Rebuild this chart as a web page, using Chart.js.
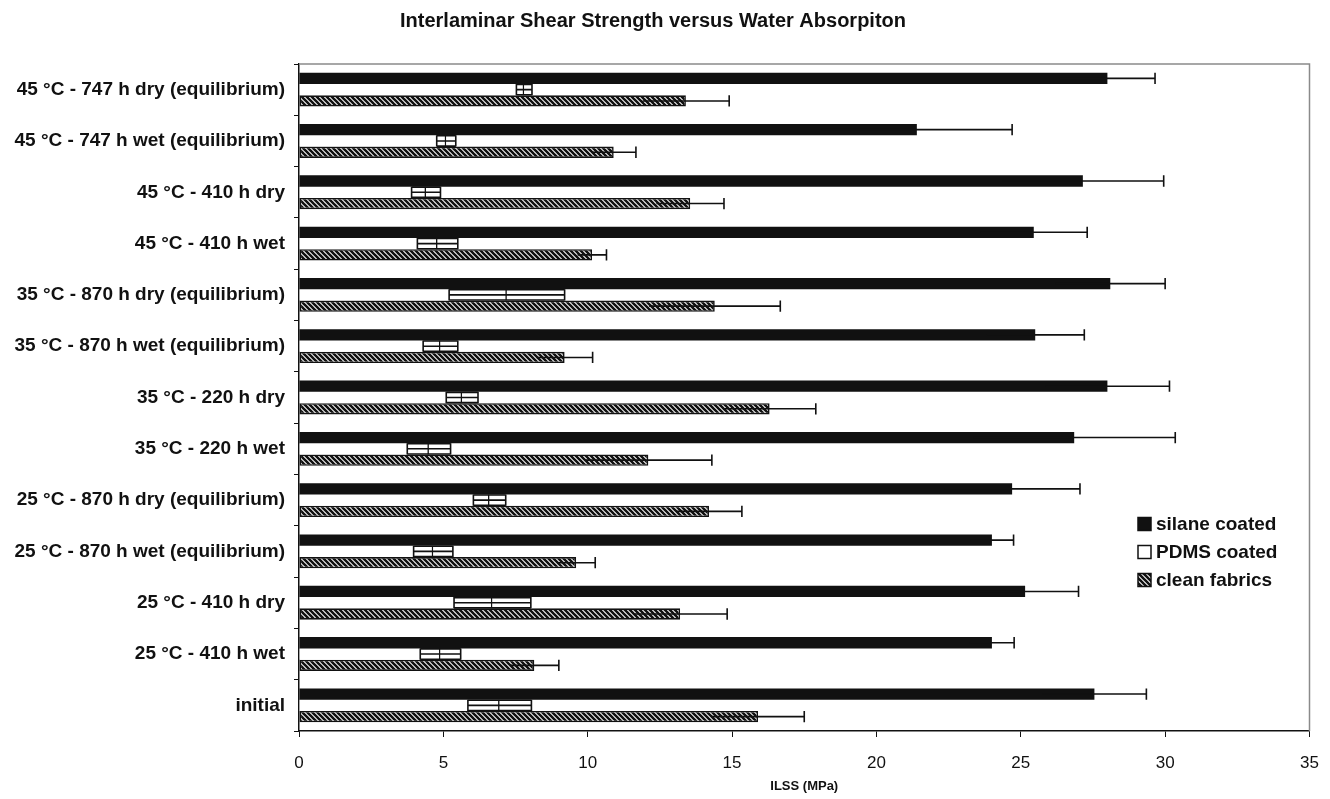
<!DOCTYPE html>
<html>
<head>
<meta charset="utf-8">
<title>ILSS versus water absorption</title>
<script src="https://cdn.jsdelivr.net/npm/chart.js@4.4.1/dist/chart.umd.min.js"></script>
<style>
  html, body { margin: 0; padding: 0; background: #fff; }
</style>
</head>
<body>
<canvas id="ilssChart" width="1330" height="799"></canvas>
<script>
// conditioning steps, listed top to bottom
const conditions = [
  "45 °C - 747 h dry (equilibrium)",
  "45 °C - 747 h wet (equilibrium)",
  "45 °C - 410 h dry",
  "45 °C - 410 h wet",
  "35 °C - 870 h dry (equilibrium)",
  "35 °C - 870 h wet (equilibrium)",
  "35 °C - 220 h dry",
  "35 °C - 220 h wet",
  "25 °C - 870 h dry (equilibrium)",
  "25 °C - 870 h wet (equilibrium)",
  "25 °C - 410 h dry",
  "25 °C - 410 h wet",
  "initial"
];

// ILSS in MPa and standard deviations
const silane    = [28.0, 21.4, 27.15, 25.45, 28.1, 25.5, 28.0, 26.85, 24.7, 24.0, 25.15, 24.0, 27.55];
const silaneErr = [1.65, 3.3, 2.8, 1.85, 1.9, 1.7, 2.15, 3.5, 2.35, 0.75, 1.85, 0.77, 1.8];
const pdms      = [7.8, 5.1, 4.4, 4.8, 7.2, 4.9, 5.65, 4.5, 6.6, 4.65, 6.7, 4.9, 6.95];
const pdmsErr   = [0.27, 0.33, 0.5, 0.7, 2.0, 0.6, 0.55, 0.75, 0.56, 0.68, 1.33, 0.7, 1.1];
const clean     = [13.4, 10.9, 13.55, 10.15, 14.4, 9.2, 16.3, 12.1, 14.2, 9.6, 13.2, 8.15, 15.9];
const cleanErr  = [1.5, 0.77, 1.17, 0.5, 2.27, 0.97, 1.6, 2.2, 1.14, 0.66, 1.63, 0.85, 1.6];

const seriesNames = ["silane coated", "PDMS coated", "clean fabrics"];
const xTicks = [0, 5, 10, 15, 20, 25, 30, 35];
const chartTitle = "Interlaminar Shear Strength versus Water Absorpiton";

const INK = "#111";
const FONT = "'Liberation Sans', Arial, sans-serif";

const canvas = document.getElementById("ilssChart");
const ctx = canvas.getContext("2d");

// diagonal "\" hatching for the clean fabric bars
function makeHatch() {
  const s = 5;
  const tile = document.createElement("canvas");
  tile.width = s;
  tile.height = s;
  const g = tile.getContext("2d");
  g.fillStyle = "#fff";
  g.fillRect(0, 0, s, s);
  g.strokeStyle = INK;
  g.lineWidth = 2.6;
  g.beginPath();
  for (let k = -1; k <= 1; k++) {
    g.moveTo(k * s - 1, -1);
    g.lineTo(k * s + s + 1, s + 1);
  }
  g.stroke();
  return ctx.createPattern(tile, "repeat");
}
const hatch = makeHatch();

// error bars: line through the bar middle with end caps;
// PDMS bars get a closed box between the caps
const errorBars = {
  id: "errorBars",
  afterDatasetsDraw(chart) {
    const c = chart.ctx;
    const xs = chart.scales.x;
    c.save();
    c.strokeStyle = INK;
    chart.data.datasets.forEach((ds, i) => {
      const meta = chart.getDatasetMeta(i);
      meta.data.forEach((bar, j) => {
        const { y, height } = bar.getProps(["y", "height"], true);
        const v = ds.data[j];
        const e = ds.errors[j];
        const lo = xs.getPixelForValue(v - e);
        const hi = xs.getPixelForValue(v + e);
        const top = y - height / 2;
        const bot = y + height / 2;
        c.lineWidth = 1.6;
        c.beginPath();
        c.moveTo(lo, y);
        c.lineTo(hi, y);
        c.moveTo(hi, top);
        c.lineTo(hi, bot);
        if (ds.boxed) {
          c.moveTo(lo, top);
          c.lineTo(lo, bot);
          c.moveTo(lo, top + 0.5);
          c.lineTo(hi, top + 0.5);
          c.moveTo(lo, bot - 0.5);
          c.lineTo(hi, bot - 0.5);
        }
        c.stroke();
      });
    });
    c.restore();
  }
};

// light frame round the plot area
const plotFrame = {
  id: "plotFrame",
  beforeDatasetsDraw(chart) {
    const { left, right, top, bottom } = chart.chartArea;
    const c = chart.ctx;
    c.save();
    c.strokeStyle = "#8a8a8a";
    c.lineWidth = 1.5;
    c.beginPath();
    c.moveTo(left, top);
    c.lineTo(right, top);
    c.lineTo(right, bottom);
    c.stroke();
    c.restore();
  }
};

// heading, set a little left of the page centre
const heading = {
  id: "heading",
  afterDraw(chart) {
    const c = chart.ctx;
    c.save();
    c.font = "bold 20px " + FONT;
    c.fillStyle = INK;
    c.textAlign = "center";
    c.textBaseline = "middle";
    c.fillText(chartTitle, 653, 21);
    c.restore();
  }
};

// legend box sitting inside the plot, lower right
const boxLegend = {
  id: "boxLegend",
  afterDraw(chart) {
    const c = chart.ctx;
    const x0 = 1138;
    const rows = [524, 552, 580];
    c.save();
    c.font = "bold 19px " + FONT;
    c.textBaseline = "middle";
    chart.data.datasets.forEach((ds, i) => {
      const yc = rows[i];
      c.fillStyle = ds.legendFill;
      c.fillRect(x0, yc - 6.5, 13, 13);
      c.strokeStyle = INK;
      c.lineWidth = 1.5;
      c.strokeRect(x0, yc - 6.5, 13, 13);
      c.fillStyle = INK;
      c.fillText(ds.label, x0 + 18, yc + 1);
    });
    c.restore();
  }
};

new Chart(ctx, {
  type: "bar",
  data: {
    labels: conditions,
    datasets: [
      {
        label: seriesNames[0],
        data: silane,
        errors: silaneErr,
        backgroundColor: INK,
        legendFill: INK,
        borderWidth: 0,
        barPercentage: 1,
        categoryPercentage: 0.66
      },
      {
        label: seriesNames[1],
        data: pdms,
        errors: pdmsErr,
        boxed: true,
        backgroundColor: "#fff",
        legendFill: "#fff",
        borderColor: INK,
        borderWidth: { right: 1.6, top: 0, bottom: 0, left: 0 },
        borderSkipped: false,
        barPercentage: 1,
        categoryPercentage: 0.66
      },
      {
        label: seriesNames[2],
        data: clean,
        errors: cleanErr,
        backgroundColor: hatch,
        legendFill: hatch,
        borderColor: INK,
        borderWidth: 1.6,
        borderSkipped: false,
        barPercentage: 1,
        categoryPercentage: 0.66
      }
    ]
  },
  options: {
    indexAxis: "y",
    responsive: false,
    animation: false,
    layout: { padding: { left: 0, right: 0, top: 64, bottom: 0 } },
    plugins: {
      legend: { display: false },
      tooltip: { enabled: false },
      title: { display: false }
    },
    scales: {
      x: {
        min: 0,
        max: 35,
        afterBuildTicks(scale) {
          scale.ticks = xTicks.map((v) => ({ value: v }));
        },
        afterFit(scale) {
          scale.height = 68;
          scale.paddingLeft = 0;
          scale.paddingRight = 20.5;
        },
        border: { display: true, color: INK, width: 1.5 },
        grid: { drawOnChartArea: false, drawTicks: true, tickLength: 6, color: INK, lineWidth: 1 },
        ticks: { color: INK, padding: 16, font: { family: FONT, size: 17 } },
        title: {
          display: true,
          text: "ILSS (MPa)",
          color: INK,
          font: { family: FONT, size: 13, weight: "bold" },
          padding: { top: 0, bottom: 5 }
        }
      },
      y: {
        afterFit(scale) {
          scale.width = 299;
        },
        border: { display: true, color: INK, width: 1.5 },
        grid: { offset: true, drawOnChartArea: false, tickLength: 5, color: INK, lineWidth: 1 },
        ticks: { color: INK, padding: 9, autoSkip: false, font: { family: FONT, size: 19, weight: "bold" } }
      }
    }
  },
  plugins: [plotFrame, errorBars, heading, boxLegend]
});
</script>
</body>
</html>
